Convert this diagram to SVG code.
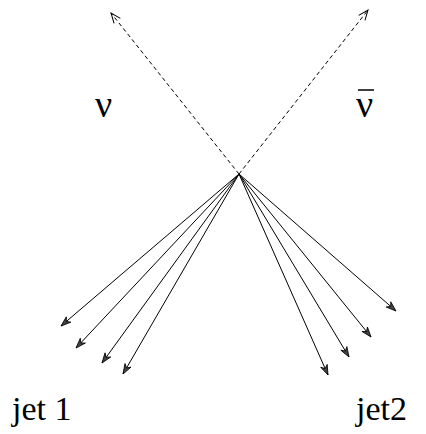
<svg xmlns="http://www.w3.org/2000/svg" width="426" height="434" viewBox="0 0 426 434">
<style>
.dash{stroke:#000;stroke-width:1;stroke-dasharray:4,3;fill:none}
.jet{stroke:#000;stroke-width:1;fill:none}
.lbl{font-family:"Liberation Serif","Times New Roman",serif;fill:#000}
</style>
<defs>
<marker id="open" markerUnits="userSpaceOnUse" markerWidth="14" markerHeight="14" viewBox="-12 -6 14 12" refX="0" refY="0" orient="auto">
<path d="M-10,-4 L0,0 L-10,4" fill="none" stroke="#000" stroke-width="1"/>
</marker>
<marker id="solid" markerUnits="userSpaceOnUse" markerWidth="14" markerHeight="14" viewBox="-12 -6 14 12" refX="0" refY="0" orient="auto">
<path d="M0,0 L-10,-3.5 L-7,0 L-10,3.5 Z" fill="#444" stroke="#000" stroke-width="0.8"/>
</marker>
</defs>
<g id="connectors">
<line class="dash" x1="239" y1="174" x2="111" y2="13" marker-end="url(#open)"/>
<line class="dash" x1="239" y1="174" x2="368" y2="10" marker-end="url(#open)"/>
<line class="jet" x1="239" y1="174" x2="61" y2="326" marker-end="url(#solid)"/>
<line class="jet" x1="239" y1="174" x2="76" y2="348" marker-end="url(#solid)"/>
<line class="jet" x1="239" y1="174" x2="102" y2="363" marker-end="url(#solid)"/>
<line class="jet" x1="239" y1="174" x2="123" y2="374" marker-end="url(#solid)"/>
<line class="jet" x1="239" y1="174" x2="396" y2="311" marker-end="url(#solid)"/>
<line class="jet" x1="239" y1="174" x2="371" y2="337" marker-end="url(#solid)"/>
<line class="jet" x1="239" y1="174" x2="349" y2="357" marker-end="url(#solid)"/>
<line class="jet" x1="239" y1="174" x2="328" y2="375" marker-end="url(#solid)"/>
</g>
<g id="nu">
<text class="lbl" x="95" y="117" font-size="38">ν</text>
</g>
<g id="nubar">
<text class="lbl" x="356" y="117" font-size="38">ν</text>
<line x1="358" y1="90" x2="374" y2="90" stroke="#000" stroke-width="1.5"/>
</g>
<g id="jet1">
<text class="lbl" x="12" y="420" font-size="34">jet 1</text>
</g>
<g id="jet2">
<text class="lbl" x="356" y="420" font-size="34">jet2</text>
</g>
</svg>
